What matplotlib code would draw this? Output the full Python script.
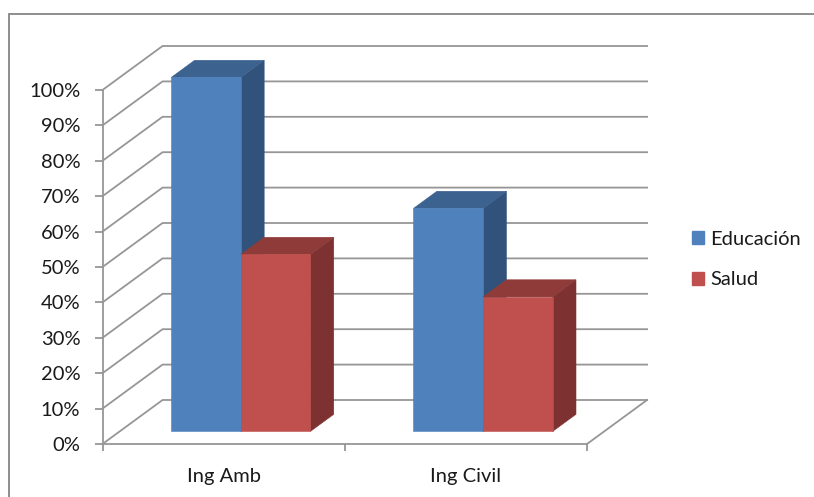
#!/usr/bin/env python3
# -*- coding: utf-8 -*-
import matplotlib
matplotlib.use("Agg")
import matplotlib.pyplot as plt
from matplotlib.patches import Polygon, Patch, Rectangle

categories = ["Ing Amb", "Ing Civil"]
series_names = ["Educación", "Salud"]
educacion = [100, 63]
salud = [50, 38]
y_ticks = [0, 10, 20, 30, 40, 50, 60, 70, 80, 90, 100]

W, H = 814, 497
plt.rcParams['font.family'] = ['Lato', 'DejaVu Sans']

fig = plt.figure(figsize = (W/100, H/100), dpi = 100)
fig.patches.append(Rectangle((8.5/W, -0.1), 1.2, 0.1 + (H-14)/H, transform = fig.transFigure,
                             fill = False, edgecolor = "#868686", linewidth = 1.3))
ax = fig.add_axes([102.5/W, (H-444)/H, 484.5/W, 354/H])
ax.set_xlim(0, 2)
ax.set_ylim(0, 100)
ax.patch.set_visible(False)

# oblique depth: one full depth unit in data units
depth_x = 60 / 242.0
depth_y = 44 / 3.54
grid_c = "#969696"
text_c = "#1a1a1a"
font_size = 14.5
line_w = 1.3

def proj(x, y, d):
    return (x + d*depth_x, y + d*depth_y)

def box(x0, x1, v, d0, d1, front, top, side):
    # depth range d0..d1, value v
    ax.add_patch(Polygon([proj(x1, 0, d0), proj(x1, 0, d1), proj(x1, v, d1), proj(x1, v, d0)],
                         facecolor = side, edgecolor = side, lw = 0.4, clip_on = False, zorder = 3))
    ax.add_patch(Polygon([proj(x0, v, d0), proj(x1, v, d0), proj(x1, v, d1), proj(x0, v, d1)],
                         facecolor = top, edgecolor = top, lw = 0.4, clip_on = False, zorder = 3))
    ax.add_patch(Polygon([proj(x0, 0, d0), proj(x1, 0, d0), proj(x1, v, d0), proj(x0, v, d0)],
                         facecolor = front, edgecolor = front, lw = 0.4, clip_on = False, zorder = 3))

# walls and floor
for t in y_ticks:
    xs, ys = zip(proj(0, t, 0), proj(0, t, 1), proj(2, t, 1))
    ax.plot(xs, ys, color = grid_c, lw = line_w, clip_on = False, zorder = 1, solid_joinstyle = "miter")
xs, ys = zip(proj(2, 0, 1), proj(2, 0, 0))
ax.plot(xs, ys, color = grid_c, lw = line_w, clip_on = False, zorder = 1)

# bars
bar_w = 69.5 / 242.0
d0, d1 = 0.285, 0.675
for i in range(len(categories)):
    c = i + 0.5
    box(c - bar_w, c, educacion[i], d0, d1, "#4F81BD", "#3C6290", "#31537B")
    box(c, c + bar_w, salud[i], d0, d1, "#C0504D", "#8F3B39", "#7D3130")

# axes
for s in ["top", "right"]:
    ax.spines[s].set_visible(False)
for s in ["left", "bottom"]:
    ax.spines[s].set_color(grid_c)
    ax.spines[s].set_linewidth(line_w)
ax.set_yticks(y_ticks)
ax.set_yticklabels(["%d%%" % t for t in y_ticks])
ax.set_xticks([0, 1, 2])
ax.set_xticklabels([])
ax.set_xticks([0.5, 1.5], minor = True)
ax.set_xticklabels(categories, minor = True)
ax.tick_params(axis = "y", length = 6, width = line_w, color = grid_c, pad = 10, labelsize = font_size, labelcolor = text_c)
ax.tick_params(axis = "x", which = "major", length = 5, width = line_w, color = grid_c)
ax.tick_params(axis = "x", which = "minor", length = 0, pad = 17, labelsize = font_size, labelcolor = text_c)

handles = [Patch(facecolor = "#4F81BD", edgecolor = "#4F81BD"), Patch(facecolor = "#C0504D", edgecolor = "#C0504D")]
fig.legend(handles, series_names, loc = "center left", bbox_to_anchor = (692/W, (H-259.5)/H),
           frameon = False, fontsize = font_size, handlelength = 0.6, handleheight = 0.6,
           handletextpad = 0.3, labelspacing = 1.17, borderpad = 0, borderaxespad = 0, labelcolor = text_c)

plt.savefig("out.png", dpi = 100)
